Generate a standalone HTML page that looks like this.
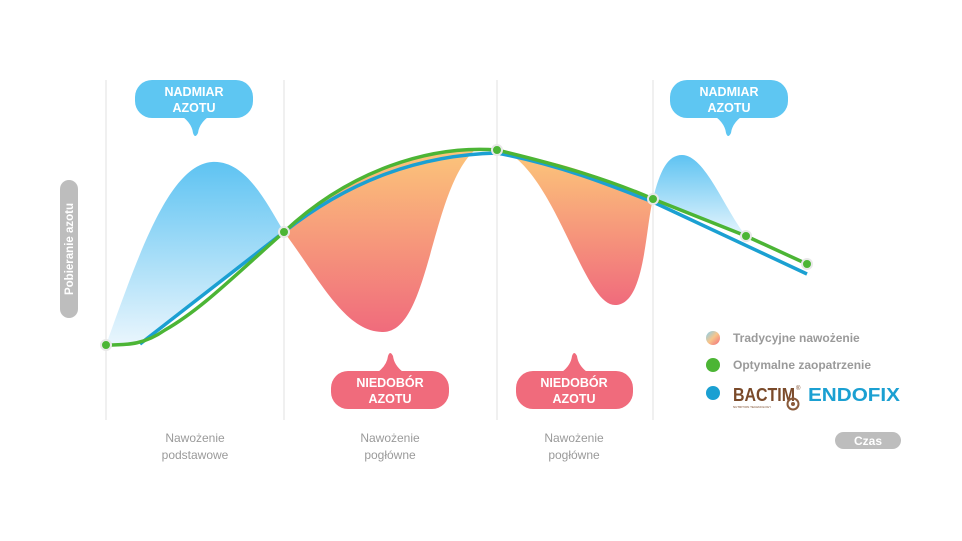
<!DOCTYPE html>
<html><head><meta charset="utf-8"><style>
html,body{margin:0;padding:0;background:#fff;width:962px;height:541px;overflow:hidden}
svg{display:block;font-family:"Liberation Sans",sans-serif}
</style></head><body>
<svg width="962" height="541" viewBox="0 0 962 541">
<defs>
<linearGradient id="bl" x1="0" y1="0" x2="0" y2="1"><stop offset="0" stop-color="#5ec3f2"/><stop offset="1" stop-color="#eaf6fd"/></linearGradient>
<linearGradient id="bl2" x1="0" y1="0" x2="0" y2="1"><stop offset="0" stop-color="#5ec3f2"/><stop offset="1" stop-color="#e6f5fd"/></linearGradient>
<linearGradient id="or" x1="0" y1="0" x2="0" y2="1"><stop offset="0" stop-color="#fcc57a"/><stop offset="1" stop-color="#f06b7c"/></linearGradient>
<linearGradient id="or2" x1="0" y1="0" x2="0" y2="1"><stop offset="0" stop-color="#fcc57a"/><stop offset="1" stop-color="#f06b7c"/></linearGradient>
<linearGradient id="lg" x1="0" y1="0" x2="1" y2="1"><stop offset="0" stop-color="#7fd0f5"/><stop offset="0.5" stop-color="#f8c58a"/><stop offset="1" stop-color="#f06b7c"/></linearGradient>
</defs>
<g stroke="#ececec" stroke-width="1.5">
<line x1="106" y1="80" x2="106" y2="420"/><line x1="284" y1="80" x2="284" y2="420"/>
<line x1="497" y1="80" x2="497" y2="420"/><line x1="653" y1="80" x2="653" y2="420"/>
</g>
<path d="M106,345 C140,250 170,165 212,162 C245,160 265,200 284,232 C250,262 200,300 140,344 Z" fill="url(#bl)"/>
<path d="M284,232 C320,280 345,332 383,332 C430,332 430,190 475,150 C420,150 340,175 284,232 Z" fill="url(#or)"/>
<path d="M512,155 C560,190 585,305 615,305 C645,305 645,230 653,199 C610,180 560,160 512,155 Z" fill="url(#or2)"/>
<path d="M653,199 C660,170 668,155 682,155 C705,155 725,210 746,236 C715,222 680,208 653,199 Z" fill="url(#bl2)"/>
<path d="M140,344 L284,232 C350,180 420,155 497,153 C560,165 610,185 653,202 L807,274" fill="none" stroke="#1ba0d2" stroke-width="3.5"/>
<path d="M106,345 C130,345 145,344 165,330 C200,310 230,280 284,232 C350,170 430,145 497,150 C560,165 610,180 653,199 L746,236 L807,264" fill="none" stroke="#4cb535" stroke-width="3.5"/>
<g fill="#4cb535" stroke="#e8e8e8" stroke-width="2">
<circle cx="106" cy="345" r="5"/><circle cx="284" cy="232" r="5"/><circle cx="497" cy="150" r="5"/>
<circle cx="653" cy="199" r="5"/><circle cx="746" cy="236" r="5"/><circle cx="807" cy="264" r="5"/>
</g>
<g fill="#5ec6f2">
<rect x="135" y="80" width="118" height="38" rx="17"/><path d="M183,117 Q192,124 193,133 Q195,139 198,133 Q199,124 208,117 Z"/>
<rect x="670" y="80" width="118" height="38" rx="17"/><path d="M716,117 Q725,124 726,133 Q728,139 731,133 Q732,124 741,117 Z"/>
</g>
<g fill="#f06b7c">
<rect x="331" y="371" width="118" height="38" rx="17"/><path d="M378,372 Q387,365 388,356 Q390,350 393,356 Q394,365 403,372 Z"/>
<rect x="516" y="371" width="117" height="38" rx="17"/><path d="M562,372 Q571,365 572,356 Q574,350 577,356 Q578,365 587,372 Z"/>
</g>
<g fill="#fff" font-weight="bold" font-size="12.5" text-anchor="middle">
<text x="194" y="96">NADMIAR</text><text x="194" y="112">AZOTU</text>
<text x="729" y="96">NADMIAR</text><text x="729" y="112">AZOTU</text>
<text x="390" y="387">NIEDOBÓR</text><text x="390" y="403">AZOTU</text>
<text x="574" y="387">NIEDOBÓR</text><text x="574" y="403">AZOTU</text>
</g>
<rect x="60" y="180" width="18" height="138" rx="9" fill="#bdbdbd"/>
<text transform="translate(73,249) rotate(-90)" fill="#fff" font-weight="bold" font-size="11.5" text-anchor="middle">Pobieranie azotu</text>
<rect x="835" y="432" width="66" height="17" rx="8.5" fill="#bdbdbd"/>
<text x="868" y="445" fill="#fff" font-weight="bold" font-size="12" text-anchor="middle">Czas</text>
<g fill="#9a9a9a" font-size="12" text-anchor="middle">
<text x="195" y="442">Nawożenie</text><text x="195" y="459">podstawowe</text>
<text x="390" y="442">Nawożenie</text><text x="390" y="459">pogłówne</text>
<text x="574" y="442">Nawożenie</text><text x="574" y="459">pogłówne</text>
</g>
<circle cx="713" cy="338" r="7" fill="url(#lg)"/>
<circle cx="713" cy="365" r="7" fill="#4cb535"/>
<circle cx="713" cy="393" r="7" fill="#1ba0d2"/>
<g fill="#9a9a9a" font-weight="bold" font-size="12">
<text x="733" y="342">Tradycyjne nawożenie</text>
<text x="733" y="369">Optymalne zaopatrzenie</text>
</g>
<text x="733" y="401" fill="#7a4a2a" font-weight="bold" font-size="18" textLength="62" lengthAdjust="spacingAndGlyphs">BACTIM</text>
<text x="796" y="390" fill="#7a4a2a" font-size="6">®</text>
<circle cx="793" cy="404" r="5.5" fill="none" stroke="#8a5a3a" stroke-width="2"/>
<circle cx="793" cy="404" r="2" fill="#8a5a3a"/>
<text x="733" y="408" fill="#7a4a2a" font-size="3">NUTRITION TECHNOLOGY</text>
<text x="808" y="401" fill="#1ba0d2" font-weight="bold" font-size="18" textLength="92" lengthAdjust="spacingAndGlyphs">ENDOFIX</text>
</svg>
</body></html>
